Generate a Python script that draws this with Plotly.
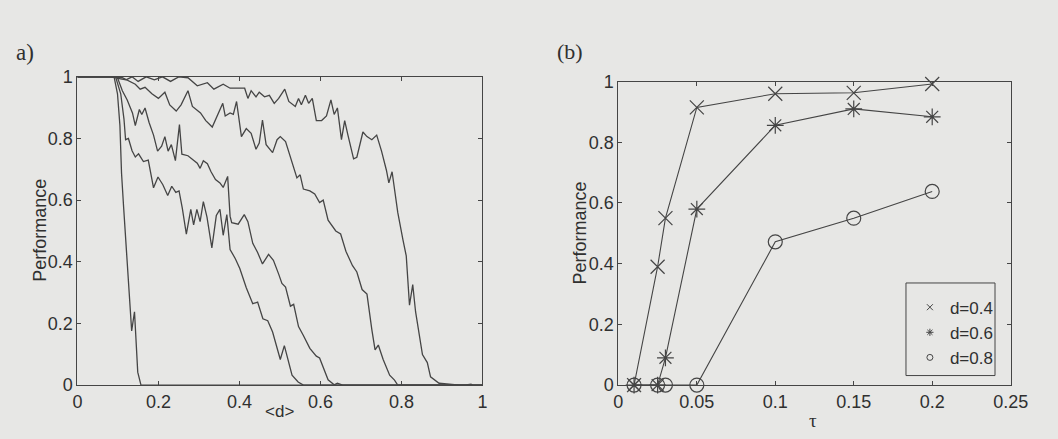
import plotly.graph_objects as go

# ---------------- data: panel a) ----------------
d1 = [0, 0.04, 0.08, 0.086, 0.091, 0.099, 0.105, 0.109, 0.114, 0.121, 0.127, 0.134, 0.141, 0.149, 0.157, 0.3, 0.6, 1.0]
p1 = [1, 1, 1, 1, 0.997, 0.945, 0.842, 0.687, 0.58, 0.44, 0.285, 0.176, 0.238, 0.042, 0, 0, 0, 0]

d2 = [0, 0.05, 0.08, 0.095, 0.107, 0.115, 0.119, 0.126, 0.135, 0.143, 0.151, 0.163, 0.175, 0.188, 0.199,
      0.211, 0.223, 0.233, 0.243, 0.251, 0.259, 0.269, 0.280, 0.287, 0.295, 0.303, 0.311, 0.320, 0.332,
      0.343, 0.352, 0.360, 0.369, 0.377, 0.39, 0.401, 0.417, 0.433, 0.445, 0.458, 0.470, 0.482, 0.501,
      0.511, 0.530, 0.545, 0.558, 0.7, 1.0]
p2 = [1, 1, 1, 0.997, 0.945, 0.863, 0.796, 0.80, 0.76, 0.74, 0.75, 0.725, 0.73, 0.64, 0.675,
      0.65, 0.615, 0.645, 0.625, 0.63, 0.574, 0.49, 0.57, 0.52, 0.57, 0.53, 0.595, 0.545, 0.445,
      0.55, 0.57, 0.486, 0.553, 0.44, 0.41, 0.378, 0.316, 0.264, 0.269, 0.215, 0.209, 0.172, 0.083,
      0.128, 0.032, 0.01, 0, 0, 0]

d3 = [0, 0.05, 0.09, 0.099, 0.111, 0.123, 0.136, 0.143, 0.153, 0.159, 0.167, 0.177, 0.188, 0.198, 0.208,
      0.216, 0.224, 0.232, 0.242, 0.252, 0.258, 0.273, 0.288, 0.296, 0.303, 0.311, 0.321, 0.330, 0.341,
      0.352, 0.360, 0.371, 0.377, 0.381, 0.397, 0.412, 0.421, 0.433, 0.445, 0.457, 0.472, 0.484, 0.497,
      0.505, 0.514, 0.526, 0.534, 0.546, 0.558, 0.574, 0.590, 0.598, 0.619, 0.634, 0.642, 0.655, 0.8, 1.0]
p3 = [1, 1, 1, 0.997, 0.955, 0.925, 0.883, 0.842, 0.894, 0.878, 0.899, 0.852, 0.811, 0.759, 0.775,
      0.806, 0.759, 0.78, 0.728, 0.845, 0.749, 0.744, 0.728, 0.72, 0.703, 0.728, 0.718, 0.692, 0.667,
      0.656, 0.641, 0.677, 0.548, 0.527, 0.522, 0.553, 0.53, 0.46, 0.43, 0.393, 0.424, 0.405, 0.36,
      0.33, 0.318, 0.256, 0.262, 0.19, 0.161, 0.119, 0.094, 0.088, 0.017, 0.001, 0.006, 0, 0, 0]

d4 = [0, 0.05, 0.09, 0.111, 0.143, 0.155, 0.167, 0.184, 0.200, 0.216, 0.228, 0.244, 0.256, 0.273, 0.284,
      0.304, 0.317, 0.333, 0.348, 0.359, 0.365, 0.377, 0.385, 0.393, 0.405, 0.417, 0.429, 0.441, 0.449,
      0.457, 0.466, 0.482, 0.493, 0.501, 0.514, 0.530, 0.542, 0.550, 0.558, 0.574, 0.586, 0.598, 0.607,
      0.619, 0.638, 0.650, 0.663, 0.679, 0.690, 0.703, 0.715, 0.727, 0.735, 0.743, 0.755, 0.771, 0.783,
      0.791, 0.9, 1.0]
p4 = [1, 1, 1, 0.997, 0.976, 0.96, 0.966, 0.945, 0.93, 0.95, 0.909, 0.889, 0.909, 0.955, 0.904,
      0.883, 0.858, 0.837, 0.883, 0.914, 0.873, 0.883, 0.878, 0.92, 0.806, 0.832, 0.817, 0.765, 0.785,
      0.86, 0.78, 0.754, 0.796, 0.806, 0.79, 0.723, 0.672, 0.682, 0.636, 0.63, 0.62, 0.592, 0.6,
      0.535, 0.5, 0.49, 0.434, 0.388, 0.367, 0.31, 0.295, 0.18, 0.114, 0.13, 0.083, 0.032, 0.016,
      0, 0, 0]

d5 = [0, 0.05, 0.09, 0.10, 0.12, 0.135, 0.15, 0.17, 0.19, 0.21, 0.23, 0.25, 0.273, 0.296, 0.321,
      0.337, 0.360, 0.377, 0.413, 0.421, 0.429, 0.441, 0.449, 0.462, 0.474, 0.486, 0.497, 0.512, 0.522,
      0.538, 0.546, 0.553, 0.563, 0.571, 0.580, 0.590, 0.603, 0.615, 0.626, 0.634, 0.642, 0.652, 0.660,
      0.668, 0.682, 0.690, 0.705, 0.715, 0.727, 0.739, 0.751, 0.763, 0.769, 0.777, 0.791, 0.804, 0.812,
      0.820, 0.828, 0.835, 0.852, 0.864, 0.872, 0.893, 0.924, 0.944, 0.960, 0.972, 0.975]
p5 = [1, 1, 1, 0.995, 0.99, 1, 0.985, 1, 0.99, 1, 0.985, 1, 0.997, 0.971, 0.981,
      0.96, 0.976, 0.963, 0.963, 0.93, 0.955, 0.935, 0.95, 0.935, 0.94, 0.914, 0.93, 0.96, 0.92,
      0.904, 0.93, 0.909, 0.94, 0.914, 0.93, 0.858, 0.858, 0.873, 0.925, 0.878, 0.899, 0.796, 0.858,
      0.811, 0.734, 0.739, 0.821, 0.806, 0.796, 0.811, 0.759, 0.697, 0.656, 0.692, 0.56, 0.47, 0.419,
      0.259, 0.326, 0.238, 0.099, 0.073, 0.027, 0.006, 0.001, 0, 0.001, 0.003, 0]

# ---------------- data: panel (b) ----------------
tau = [0.01, 0.025, 0.03, 0.05, 0.1, 0.15, 0.2]
perf_d04 = [0, 0.39, 0.55, 0.915, 0.96, 0.963, 0.992]
perf_d06 = [0, 0, 0.09, 0.58, 0.856, 0.91, 0.884]
perf_d08 = [0, 0, 0, 0, 0.472, 0.55, 0.638]
legend_labels = ["d=0.4", "d=0.6", "d=0.8"]

xa_ticks = [0, 0.2, 0.4, 0.6, 0.8, 1]
xa_text = ["0", "0.2", "0.4", "0.6", "0.8", "1"]
ya_ticks = [0, 0.2, 0.4, 0.6, 0.8, 1]
ya_text = ["0", "0.2", "0.4", "0.6", "0.8", "1"]
xb_ticks = [0, 0.05, 0.1, 0.15, 0.2, 0.25]
xb_text = ["0", "0.05", "0.1", "0.15", "0.2", "0.25"]

# ---------------- style ----------------
W, H = 1058, 439
BG = "#e7e7e5"
LINE = "#454545"
TXT = "#303030"
SANS = "Liberation Sans, Arial, sans-serif"
SERIF = "Liberation Serif, Times New Roman, serif"

def px(x):
    return x / W

def py(y):
    return 1 - y / H

fig = go.Figure()

for d, p in [(d1, p1), (d2, p2), (d3, p3), (d4, p4), (d5, p5)]:
    fig.add_trace(go.Scatter(x=d, y=p, mode="lines", line=dict(color=LINE, width=1.3),
                             xaxis="x", yaxis="y", showlegend=False, hoverinfo="skip"))

symbols = ["x-thin-open", "asterisk-open", "circle-open"]
sizes = [14, 14, 14]
for vals, sym, sz, lab in zip([perf_d04, perf_d06, perf_d08], symbols, sizes, legend_labels):
    fig.add_trace(go.Scatter(x=tau, y=vals, mode="lines+markers",
                             line=dict(color=LINE, width=1.1),
                             marker=dict(symbol=sym, size=sz, color=LINE,
                                         line=dict(color=LINE, width=1.2)),
                             cliponaxis=False, xaxis="x2", yaxis="y2", showlegend=False))
    fig.add_trace(go.Scatter(x=[None], y=[None], mode="markers", name=lab,
                             marker=dict(symbol=sym, size=6, color=LINE,
                                         line=dict(color=LINE, width=1)),
                             xaxis="x2", yaxis="y2", showlegend=True))

axis_common = dict(showgrid=False, zeroline=False, showline=True, linecolor=LINE, linewidth=1,
                   mirror="ticks", ticks="inside", ticklen=4, tickcolor=LINE, tickwidth=1,
                   tickfont=dict(family=SANS, size=18, color=TXT))

fig.update_layout(
    width=W, height=H,
    margin=dict(l=0, r=0, t=0, b=0),
    paper_bgcolor=BG, plot_bgcolor=BG,
    xaxis=dict(domain=[px(74), px(488)], range=[0, 1], tickvals=xa_ticks, ticktext=xa_text,
               anchor="y", **axis_common),
    yaxis=dict(domain=[py(393), py(70)], range=[0, 1], tickvals=ya_ticks, ticktext=ya_text,
               anchor="x", **axis_common),
    xaxis2=dict(domain=[px(627), px(1028)], range=[0, 0.25], tickvals=xb_ticks, ticktext=xb_text,
                anchor="y2", **axis_common),
    yaxis2=dict(domain=[py(393), py(75)], range=[0, 1], tickvals=ya_ticks, ticktext=ya_text,
                anchor="x2", **axis_common),
    legend=dict(x=px(925), y=py(293), xanchor="left", yanchor="top",
                bgcolor="rgba(0,0,0,0)", borderwidth=0,
                font=dict(family=SANS, size=17, color=TXT)),
    showlegend=True,
)

fig.add_shape(type="rect", xref="paper", yref="paper",
              x0=px(921), x1=px(1012), y0=py(383), y1=py(286),
              line=dict(color=LINE, width=1), fillcolor="rgba(0,0,0,0)")

ann = [
    dict(text="a)", x=px(9), y=py(45), xanchor="left", yanchor="middle",
         font=dict(family=SERIF, size=23, color=TXT)),
    dict(text="(b)", x=px(562), y=py(44), xanchor="left", yanchor="middle",
         font=dict(family=SERIF, size=22, color=TXT)),
    dict(text="Performance", x=px(36), y=py(231), textangle=-90, xanchor="center", yanchor="middle",
         font=dict(family=SANS, size=18, color=TXT)),
    dict(text="Performance", x=px(588), y=py(234), textangle=-90, xanchor="center", yanchor="middle",
         font=dict(family=SANS, size=18, color=TXT)),
    dict(text="&lt;d&gt;", x=px(281), y=py(421), xanchor="center", yanchor="middle",
         font=dict(family=SANS, size=17, color=TXT)),
    dict(text="τ", x=px(826), y=py(430), xanchor="center", yanchor="middle",
         font=dict(family=SERIF, size=19, color=TXT)),
]
for a in ann:
    a.update(xref="paper", yref="paper", showarrow=False)
    fig.add_annotation(**a)

fig.write_html("out.html")
